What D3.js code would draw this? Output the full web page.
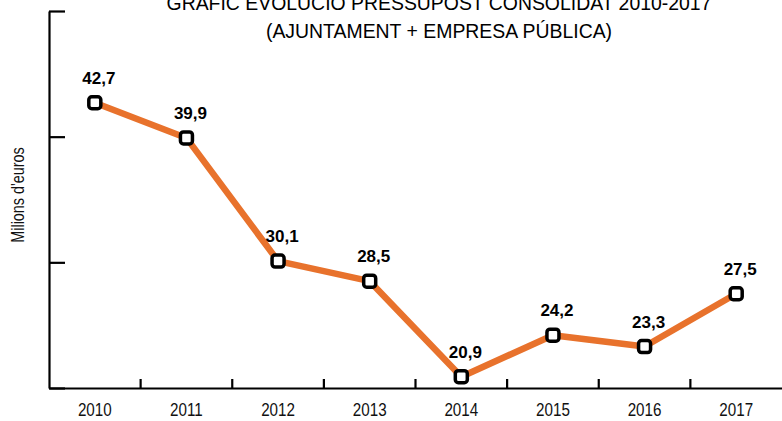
<!DOCTYPE html>
<html>
<head>
<meta charset="utf-8">
<script src="https://d3js.org/d3.v7.min.js"></script>
<style>
    body { margin: 0; background: #fff; }
    svg { display: block; }
    text { font-family: "Liberation Sans", sans-serif; }
</style>
</head>
<body>
<svg id="drawing_region"></svg>
<script>
const years = ["2010", "2011", "2012", "2013", "2014", "2015", "2016", "2017"];
const values = [42.7, 39.9, 30.1, 28.5, 20.9, 24.2, 23.3, 27.5];
const labels = ["42,7", "39,9", "30,1", "28,5", "20,9", "24,2", "23,3", "27,5"];
const yticks = [20, 30, 40, 50];
const title_lines = ["GRÀFIC EVOLUCIÓ PRESSUPOST CONSOLIDAT 2010-2017", "(AJUNTAMENT + EMPRESA PÚBLICA)"];
const ylabel = "Milions d'euros";

const data = years.map( (y, i) => ({ year: y, value: values[i], label: labels[i] }) );

// no condensed font installed, so squeeze the plain one
const narrow = 0.8;

class LineChart {

    constructor( config, data ) {
        this.config = {
            parent: config.parent,
            width: config.width || 256,
            height: config.height || 256,
            margin: config.margin || {top:10, right:10, bottom:10, left:10}
        }
        this.data = data;
        this.init();
    }

    init() {
        let self = this;

        self.svg = d3.select( self.config.parent )
            .attr('width', self.config.width)
            .attr('height', self.config.height);

        self.chart = self.svg.append('g')
            .attr('transform', `translate(${self.config.margin.left}, ${self.config.margin.top})`);

        self.inner_width = self.config.width - self.config.margin.left - self.config.margin.right;
        self.inner_height = self.config.height - self.config.margin.top - self.config.margin.bottom;

        self.xscale = d3.scaleBand()
            .range( [0, self.inner_width] );

        self.yscale = d3.scaleLinear()
            .range( [self.inner_height, 0] );

        self.xaxis = d3.axisBottom( self.xscale )
            .tickSize(0)
            .tickPadding(15);

        self.yaxis = d3.axisRight( self.yscale )
            .tickValues( yticks )
            .tickSize(16)
            .tickFormat('')
            .tickSizeOuter(0);

        self.xaxis_group = self.chart.append('g')
            .attr('transform', `translate(0, ${self.inner_height})`);

        self.yaxis_group = self.chart.append('g');
    }

    update() {
        let self = this;
        self.xscale.domain( self.data.map( d => d.year ) );
        self.yscale.domain( [yticks[0], yticks[yticks.length-1]] );
        self.render();
    }

    render() {
        let self = this;

        self.yaxis_group.call( self.yaxis );
        self.yaxis_group.selectAll('line, path')
            .attr('stroke', '#000')
            .attr('stroke-width', 2.2);

        self.xaxis_group.call( self.xaxis );
        self.xaxis_group.select('path.domain')
            .attr('stroke', '#000')
            .attr('stroke-width', 2.2);
        self.xaxis_group.selectAll('.tick text')
            .attr('font-size', '19px')
            .attr('font-family', '"Liberation Sans", sans-serif')
            .attr('transform', `scale(${narrow}, 1)`)
            .attr('fill', '#111');

        // separator ticks between the years
        self.xaxis_group.selectAll('.sep')
            .data( self.data.slice(1) )
            .enter()
            .append('line')
            .attr('x1', d => self.xscale(d.year))
            .attr('x2', d => self.xscale(d.year))
            .attr('y1', 0)
            .attr('y2', -9)
            .attr('stroke', '#000')
            .attr('stroke-width', 2.2);

        const cx = d => self.xscale(d.year) + self.xscale.bandwidth()/2;
        const cy = d => self.yscale(d.value);

        const line = d3.line()
            .x( cx )
            .y( cy );

        self.chart.append('path')
            .datum(self.data)
            .attr('d', line)
            .attr('stroke', '#e8722c')
            .attr('stroke-width', 6.5)
            .attr('stroke-linejoin', 'round')
            .attr('fill', 'none');

        self.chart.selectAll('rect.marker')
            .data(self.data)
            .enter()
            .append('rect')
            .attr('class', 'marker')
            .attr('x', d => cx(d) - 6)
            .attr('y', d => cy(d) - 6)
            .attr('width', 12)
            .attr('height', 12)
            .attr('rx', 3)
            .attr('fill', '#fff')
            .attr('stroke', '#000')
            .attr('stroke-width', 3.5);

        self.chart.selectAll('text.value')
            .data(self.data)
            .enter()
            .append('text')
            .attr('class', 'value')
            .attr('x', d => cx(d) + 4)
            .attr('y', d => cy(d) - 19)
            .attr('text-anchor', 'middle')
            .attr('font-size', '17px')
            .attr('font-weight', 700)
            .attr('fill', '#000')
            .text( d => d.label );

        self.svg.append('text')
            .attr('transform', `translate(19, 195) rotate(-90) scale(${narrow}, 1)`)
            .attr('text-anchor', 'middle')
            .attr('dominant-baseline', 'middle')
            .attr('font-size', '18px')
            .attr('fill', '#111')
            .text( ylabel );

        self.svg.selectAll('text.title')
            .data( title_lines )
            .enter()
            .append('text')
            .attr('class', 'title')
            .attr('transform', (d, i) => `translate(439, ${10 + i*28}) scale(0.925, 1)`)
            .attr('text-anchor', 'middle')
            .attr('font-size', '21px')
            .attr('fill', '#000')
            .text( d => d );
    }
}

var config = {
    parent: '#drawing_region',
    width: 782,
    height: 421,
    margin: {top:11, right:0, bottom:33, left:49}
};

const line_chart = new LineChart( config, data );
line_chart.update();
</script>
</body>
</html>
